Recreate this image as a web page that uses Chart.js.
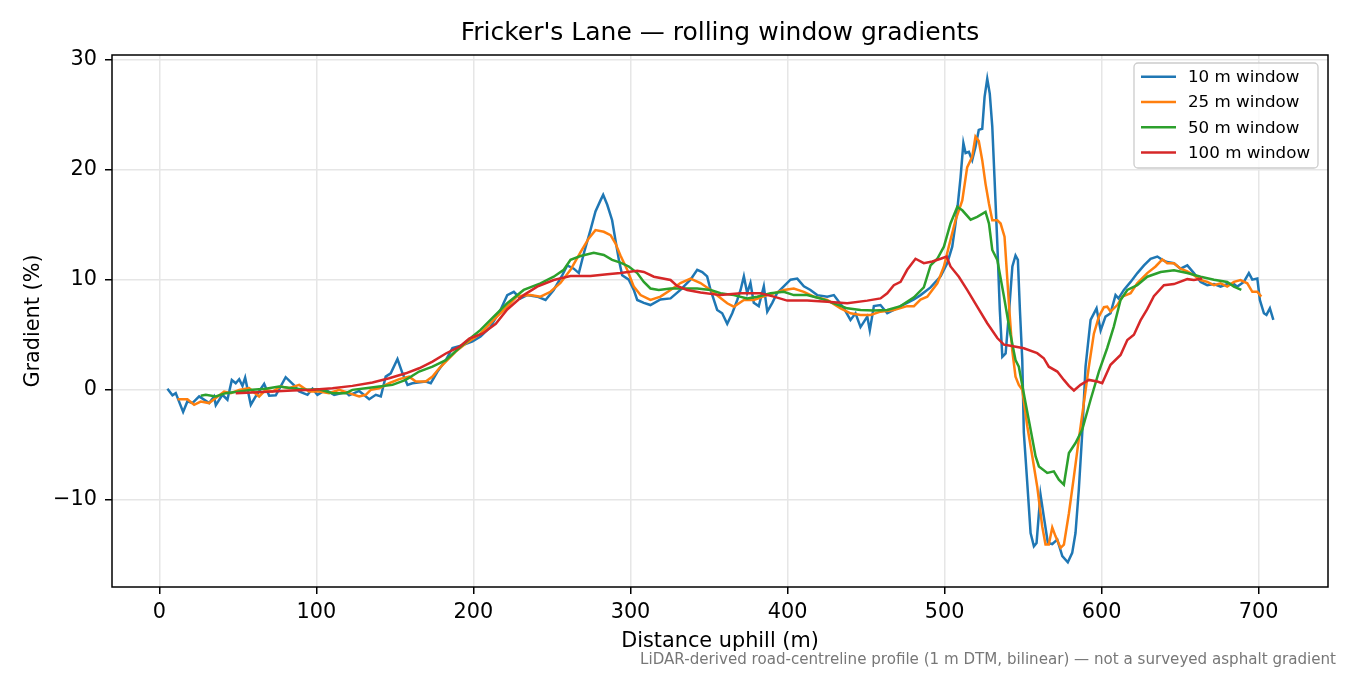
<!DOCTYPE html>
<html lang="en">
<head>
<meta charset="UTF-8">
<title>Fricker's Lane — rolling window gradients</title>
<script src="https://cdn.jsdelivr.net/npm/chart.js"></script>
<style>
    body {
        margin: 0;
        background: #fff;
    }
    #wrap {
        width: 1350px;
        height: 675px;
    }
</style>
</head>
<body>
<div id="wrap"><canvas id="gradChart" width="1350" height="675"></canvas></div>

<script>
// Tick labels
const xTicks = [0, 100, 200, 300, 400, 500, 600, 700];
const yTicks = [-10, 0, 10, 20, 30];

const seriesLabels = ['10 m window', '25 m window', '50 m window', '100 m window'];
const seriesColors = ['#1f77b4', '#ff7f0e', '#2ca02c', '#d62728'];

// 10 m window
const dist10 = [5.1, 8.3, 10.4, 15.1, 17.8, 21, 25.3, 31.7, 34.8, 35.9, 40.1, 43.3, 46.1, 48.6, 50.8, 52.9, 54.6, 58.2, 61.3, 66.7,
    69.9, 74.1, 80.4, 85.8, 89, 94.3, 97.5, 100.6, 105.9, 111.3, 118.7, 120.8, 127.2, 133.6, 137.8, 141, 144.1, 147.3, 151.6, 154.8,
    158, 161.1, 169.6, 172.8, 177.1, 182.4, 186.6, 191.9, 199.4, 204.5, 210.8, 217.2, 221.5, 225.7, 229.9, 234.2, 240.6, 245.9, 251.1, 256.5,
    259.7, 263.9, 267.1, 270.3, 274.5, 277.7, 280.9, 282.6, 285.2, 288.3, 290.4, 292.6, 294.7, 298.9, 302.1, 304.3, 308.5, 312.7, 319.1, 325.5,
    331.8, 338.2, 342.5, 345.7, 348.8, 351, 353.1, 355.2, 358.4, 361.6, 364.8, 368, 370.1, 372.2, 374.3, 376.4, 378.5, 381.7, 384.9, 387.1,
    390.3, 393.4, 397.6, 401.9, 406.2, 410.4, 414.6, 418.9, 425.3, 429.5, 432.7, 435.9, 440.1, 443.3, 446.5, 450.8, 452.4, 455, 459.2, 463.5,
    467.7, 472, 476.2, 480.5, 484.7, 491.1, 497.5, 501.7, 504.9, 507, 508.5, 510.2, 512, 513.4, 515.5, 517.6, 519.7, 521.8, 524, 525.5,
    527.2, 528.8, 530.4, 531.8, 533.6, 535.2, 536.8, 538.9, 541, 543.2, 545.2, 546.7, 548, 549.5, 550.5, 552.7, 554.8, 556.9, 558.6, 560.1,
    561.1, 563.2, 565.8, 568.6, 571.8, 575, 578.5, 581.3, 583.4, 585.5, 587.7, 589.8, 593, 596.8, 599.4, 602.5, 605.7, 608.9, 610.8, 614.2,
    618.5, 622.8, 627, 631.2, 635.5, 638.7, 641.8, 646.1, 650.3, 654.6, 658.8, 663.1, 667.3, 671.6, 675.8, 680, 684.3, 686.4, 690.6, 693.8,
    696, 699.2, 700.8, 703.4, 705, 707.2, 709.4];
const grad10 = [0.1, -0.5, -0.3, -2.0, -1.05, -1.2, -0.6, -1.2, -0.6, -1.4, -0.45, -0.9, 0.9, 0.6, 0.97, 0.35, 1.1, -1.35, -0.6, 0.54,
    -0.54, -0.5, 1.15, 0.4, -0.15, -0.45, 0.1, -0.45, 0, -0.45, -0.2, -0.5, -0.1, -0.85, -0.45, -0.6, 1.2, 1.5, 2.8, 1.5,
    0.45, 0.6, 0.75, 0.6, 1.66, 2.7, 3.8, 4.0, 4.4, 4.85, 5.7, 7.25, 8.6, 8.9, 8.3, 8.6, 8.46, 8.16, 9.07, 10.4,
    11.3, 11.0, 10.6, 12.4, 14.5, 16.2, 17.2, 17.7, 16.8, 15.4, 13.6, 11.8, 10.4, 10.0, 9.07, 8.16, 7.9, 7.7, 8.2, 8.3,
    9.07, 10.0, 10.9, 10.7, 10.3, 9.07, 8.16, 7.25, 6.95, 6.0, 6.95, 8.16, 9.07, 10.3, 8.8, 9.7, 7.9, 7.6, 9.4, 7.1,
    7.9, 8.8, 9.4, 10.0, 10.1, 9.4, 9.07, 8.6, 8.46, 8.6, 8.0, 7.4, 6.35, 6.95, 5.7, 6.65, 5.4, 7.6, 7.7, 6.95,
    7.25, 7.6, 7.9, 8.2, 8.6, 9.3, 10.3, 11.5, 13.0, 15.1, 16.9, 19.3, 22.4, 21.5, 21.6, 20.85, 22.06, 23.6, 23.7, 26.6,
    28.25, 26.9, 23.9, 19.3, 13.3, 7.25, 3.0, 3.3, 6.95, 11.2, 12.2, 11.8, 7.25, 2.7, -3.9, -8.5, -13.0, -14.2, -13.9, -11.2,
    -9.5, -11.5, -13.9, -14.0, -13.6, -15.1, -15.65, -14.8, -13.0, -9.07, -3.9, 2.1, 6.35, 7.4, 5.4, 6.65, 6.95, 8.6, 8.3, 9.07,
    9.8, 10.6, 11.3, 11.9, 12.1, 11.8, 11.6, 11.5, 11.0, 11.3, 10.6, 9.8, 9.5, 9.6, 9.37, 9.6, 9.6, 9.37, 9.8, 10.6,
    10.0, 10.1, 8.16, 6.95, 6.8, 7.4, 6.35];

// 25 m window
const dist25 = [11.5, 17.8, 22.1, 26.3, 31.6, 35.9, 41.2, 45.4, 50.8, 57.1, 63.5, 67.7, 72, 77.3, 82.6, 89, 95.3, 101.7, 108.1, 114.5,
    120.8, 127.2, 131.4, 134.6, 139.9, 146.3, 152.7, 159, 163.3, 169.6, 173.9, 178.2, 182.4, 188.7, 195.1, 203.6, 212.9, 221.5, 227.8, 236.3,
    242.7, 249, 255.4, 261.8, 268.2, 273.4, 277.7, 283, 287.3, 290.4, 293.6, 297.9, 302.1, 306.4, 312.7, 319.1, 325.5, 331.8, 338.2, 344.6,
    351, 356.3, 361.6, 365.8, 372.2, 378.5, 387.1, 391.3, 397.6, 404, 410.4, 416.8, 425.3, 433.8, 440.1, 446.5, 452.9, 459.2, 467.7, 476.2,
    480.5, 484.7, 489, 495.4, 499.6, 502.7, 507, 511.3, 514.4, 517.6, 519.7, 521.8, 524, 526.1, 528.3, 530.4, 533.6, 535.7, 538.2, 541,
    543.1, 545.2, 547.3, 549.5, 552.7, 555.9, 559, 562.2, 564.3, 566.4, 568.6, 570.7, 573.9, 576, 579.2, 582.4, 585.5, 588.7, 591.9, 595.1,
    598.3, 601.5, 603.6, 605.7, 610, 613.2, 618.5, 622.7, 629.1, 634.4, 638.7, 641.8, 646.1, 650.3, 654.6, 658.8, 663.1, 667.3, 671.6, 675.8,
    680, 684.3, 688.5, 692.8, 696, 699.2, 701.7];
const grad25 = [-0.85, -0.85, -1.36, -1.06, -1.2, -0.75, -0.15, -0.3, 0, 0.15, -0.6, 0, -0.15, 0.3, 0.15, 0.45, -0.15, -0.15, -0.3, 0,
    -0.3, -0.6, -0.45, 0, 0.15, 0.6, 0.97, 1.2, 0.75, 0.75, 1.2, 1.96, 2.57, 3.47, 4.2, 5.0, 6.35, 7.55, 8.5, 8.6,
    8.46, 8.9, 9.7, 10.9, 12.5, 13.75, 14.5, 14.35, 14.05, 13.3, 12.2, 10.9, 9.37, 8.6, 8.16, 8.46, 9.07, 9.7, 10.1, 9.7,
    9.07, 8.46, 7.86, 7.55, 8.16, 8.16, 8.6, 8.76, 9.07, 9.2, 8.9, 8.46, 8.16, 7.4, 6.95, 6.8, 6.8, 7.1, 7.25, 7.6,
    7.6, 8.2, 8.46, 9.67, 11.2, 13.0, 15.4, 17.2, 20.2, 21.15, 23.0, 22.6, 20.85, 18.7, 16.9, 15.4, 15.4, 15.1, 13.9, 7.8,
    3.6, 1.2, 0.45, 0, -3.3, -6.05, -8.77, -12.4, -14.05, -14.05, -12.5, -13.3, -14.35, -14.05, -11.2, -7.86, -4.5, -1.2, 2.1, 5.1,
    6.65, 7.5, 7.55, 7.1, 7.7, 8.46, 8.77, 9.67, 10.6, 11.2, 11.85, 11.5, 11.5, 11.0, 10.75, 10.4, 9.97, 9.8, 9.5, 9.67,
    9.37, 9.8, 9.97, 9.67, 8.9, 8.9, 8.46];

// 50 m window
const dist50 = [26.3, 29.5, 35.9, 42.2, 50.8, 59.2, 67.7, 76.2, 84.7, 93.2, 101.7, 110.2, 118.7, 122.9, 131.4, 139.9, 148.4, 156.9, 165.4, 173.9,
    182.4, 190.9, 199.4, 204.5, 212.9, 221.5, 232, 242.7, 251.1, 257.5, 261.8, 268.2, 276.6, 283, 288.3, 293.6, 298.9, 304.3, 308.5, 312.7,
    318, 325.5, 334, 342.5, 351, 357.3, 365.8, 374.3, 380.7, 389.2, 397.6, 404, 412.5, 421, 429.5, 438, 446.5, 455, 463.5, 472,
    480.5, 486.8, 491.1, 495.4, 499.6, 503.8, 508.1, 511.3, 516.6, 520.8, 526.1, 528.3, 530.4, 533.6, 537.8, 542, 545.2, 547.3, 551.6, 554.8,
    558, 560.1, 565.4, 569.6, 572.8, 576, 579.2, 583.4, 587.7, 593, 598.3, 603.6, 607.8, 612.1, 616.4, 622.7, 629.1, 637.6, 646.1, 654.6,
    663.1, 671.6, 680, 684.3, 689];
const grad50 = [-0.54, -0.45, -0.6, -0.3, -0.15, 0, 0.1, 0.3, 0.15, 0, 0.05, -0.3, -0.3, 0, 0.15, 0.3, 0.45, 0.9, 1.66, 2.1,
    2.7, 3.8, 4.85, 5.44, 6.65, 7.86, 9.07, 9.67, 10.27, 10.9, 11.8, 12.15, 12.45, 12.25, 11.8, 11.55, 11.2, 10.6, 9.8, 9.2,
    9.07, 9.2, 9.2, 9.2, 9.07, 8.77, 8.6, 8.3, 8.46, 8.77, 8.9, 8.6, 8.6, 8.3, 7.86, 7.4, 7.25, 7.2, 7.25, 7.6,
    8.4, 9.3, 11.3, 11.9, 13.0, 15.1, 16.6, 16.3, 15.45, 15.7, 16.15, 15.1, 12.7, 11.8, 8.5, 5.0, 2.7, 2.1, -1.2, -3.6,
    -6.05, -6.95, -7.55, -7.4, -8.16, -8.6, -5.74, -4.83, -3.6, -0.9, 1.66, 3.8, 5.74, 8.16, 9.07, 9.5, 10.27, 10.7, 10.85, 10.6,
    10.27, 10.0, 9.8, 9.37, 9.07];

// 100 m window
const dist100 = [48.6, 59.2, 72, 84.7, 97.5, 110.2, 122.9, 135.7, 146.3, 156.9, 165.4, 173.9, 182.4, 190.9, 197.3, 205.7, 214.2, 221.5, 232, 240.6,
    251.1, 261.8, 274.5, 285.2, 293.6, 304.3, 308.5, 314.9, 325.5, 329.7, 336.1, 344.6, 357.3, 370.1, 382.8, 391.3, 399.8, 412.5, 425.3, 438,
    450.8, 459.2, 463.5, 467.7, 472, 476.2, 481.5, 486.8, 492.2, 497.5, 501.3, 503.8, 509.1, 514.4, 520.8, 527.2, 533.6, 537.8, 542, 550.5,
    559, 563.2, 566.4, 571.8, 576, 579.2, 582.4, 586.6, 591.9, 597.3, 600.4, 605.7, 612.1, 616.4, 620.6, 624.8, 629, 633.3, 639.7, 646.1,
    654.6, 658.8, 664.1];
const grad100 = [-0.3, -0.25, -0.15, -0.05, 0, 0.15, 0.36, 0.66, 1.05, 1.5, 1.96, 2.57, 3.3, 3.9, 4.65, 5.1, 6.0, 7.3, 8.6, 9.37,
    9.97, 10.33, 10.33, 10.5, 10.6, 10.8, 10.7, 10.27, 9.97, 9.43, 9.07, 8.83, 8.6, 8.77, 8.77, 8.46, 8.1, 8.1, 8.0, 7.86,
    8.1, 8.3, 8.77, 9.5, 9.8, 10.9, 11.9, 11.5, 11.65, 11.9, 12.1, 11.2, 10.27, 9.07, 7.55, 6.05, 4.7, 4.1, 4.0, 3.78,
    3.33, 2.87, 2.1, 1.66, 0.9, 0.36, -0.06, 0.45, 0.9, 0.75, 0.6, 2.27, 3.17, 4.53, 5.0, 6.3, 7.3, 8.5, 9.5, 9.6,
    10.05, 9.97, 10.1];

const FONT = '"DejaVu Sans", "Liberation Sans", sans-serif';
const chartTitle = "Fricker's Lane \u2014 rolling window gradients";
const footNote = 'LiDAR-derived road-centreline profile (1 m DTM, bilinear) \u2014 not a surveyed asphalt gradient';

const toPoints = (xs, ys) => xs.map((x, i) => ({ x: x, y: ys[i] }));

const seriesData = [
    toPoints(dist10, grad10),
    toPoints(dist25, grad25),
    toPoints(dist50, grad50),
    toPoints(dist100, grad100)
];

// Title centred over the axes, like matplotlib does it
const axesTitlePlugin = {
    id: 'axesTitle',
    afterDraw(chart) {
        const { ctx, chartArea: a } = chart;
        ctx.save();
        ctx.font = '25px ' + FONT;
        ctx.fillStyle = '#000';
        ctx.textAlign = 'center';
        ctx.textBaseline = 'middle';
        ctx.fillText(chartTitle, (a.left + a.right) / 2, 33);
        ctx.restore();
    }
};

// Box round the axes (drawn over the lines)
const framePlugin = {
    id: 'frame',
    afterDatasetsDraw(chart) {
        const { ctx, chartArea: a } = chart;
        ctx.save();
        ctx.strokeStyle = '#000';
        ctx.lineWidth = 1.5;
        ctx.strokeRect(a.left, a.top, a.right - a.left, a.bottom - a.top);
        ctx.restore();
    }
};

// Legend box in the upper right corner
const boxLegendPlugin = {
    id: 'boxLegend',
    afterDraw(chart) {
        const ctx = chart.ctx;
        const bx = 1134, by = 63, bw = 184, bh = 105;
        ctx.save();
        ctx.beginPath();
        ctx.roundRect(bx, by, bw, bh, 4);
        ctx.fillStyle = 'rgba(255,255,255,0.8)';
        ctx.fill();
        ctx.strokeStyle = '#cccccc';
        ctx.lineWidth = 1.3;
        ctx.stroke();

        ctx.font = '16.7px ' + FONT;
        ctx.textBaseline = 'middle';
        ctx.textAlign = 'left';
        chart.data.datasets.forEach((ds, i) => {
            const y = 76.7 + i * 25.3;
            ctx.beginPath();
            ctx.moveTo(1141, y);
            ctx.lineTo(1176, y);
            ctx.strokeStyle = ds.borderColor;
            ctx.lineWidth = 2.5;
            ctx.stroke();
            ctx.fillStyle = '#000';
            ctx.fillText(ds.label, 1188, y + 1);
        });
        ctx.restore();
    }
};

// Source note under the x axis title
const footNotePlugin = {
    id: 'footNote',
    afterDraw(chart) {
        const ctx = chart.ctx;
        ctx.save();
        ctx.font = '15.1px ' + FONT;
        ctx.fillStyle = '#777777';
        ctx.textAlign = 'right';
        ctx.textBaseline = 'middle';
        ctx.fillText(footNote, 1336, 660);
        ctx.restore();
    }
};

const tickFont = { family: FONT, size: 20.8 };
const gridStyle = {
    color: '#e6e6e6',
    lineWidth: 1.5,
    tickColor: '#000',
    tickLength: 7,
    tickWidth: 1.5
};

new Chart(document.getElementById('gradChart'), {
    type: 'line',
    data: {
        datasets: seriesData.map((pts, i) => ({
            label: seriesLabels[i],
            data: pts,
            borderColor: seriesColors[i],
            backgroundColor: seriesColors[i],
            borderWidth: 2.5,
            pointRadius: 0,
            tension: 0,
            fill: false,
            order: seriesData.length - i
        }))
    },
    options: {
        responsive: false,
        animation: false,
        devicePixelRatio: 1,
        layout: { padding: { left: 0, right: 22, top: 55, bottom: 0 } },
        plugins: {
            legend: { display: false },
            tooltip: { enabled: false },
            title: { display: false }
        },
        scales: {
            x: {
                type: 'linear',
                min: -30.2,
                max: 744.2,
                afterBuildTicks: (s) => { s.ticks = xTicks.map(v => ({ value: v })); },
                afterFit: (s) => { s.height = 88; },
                ticks: { font: tickFont, color: '#000', padding: 6, maxRotation: 0, autoSkip: false },
                grid: gridStyle,
                border: { display: false },
                title: {
                    display: true,
                    text: 'Distance uphill (m)',
                    color: '#000',
                    font: { family: FONT, size: 20.8, lineHeight: 1.2 },
                    padding: { top: 0, bottom: 21 }
                }
            },
            y: {
                type: 'linear',
                min: -17.9,
                max: 30.4,
                afterBuildTicks: (s) => { s.ticks = yTicks.map(v => ({ value: v })); },
                afterFit: (s) => { s.width = 112; },
                ticks: {
                    font: tickFont,
                    color: '#000',
                    padding: 8,
                    callback: (v) => (v < 0 ? '\u2212' + Math.abs(v) : String(v))
                },
                grid: gridStyle,
                border: { display: false },
                title: {
                    display: true,
                    text: 'Gradient (%)',
                    color: '#000',
                    font: { family: FONT, size: 20.8, lineHeight: 1.2 },
                    padding: { top: 21.5, bottom: 0 }
                }
            }
        }
    },
    plugins: [axesTitlePlugin, framePlugin, boxLegendPlugin, footNotePlugin]
});
</script>
</body>
</html>
